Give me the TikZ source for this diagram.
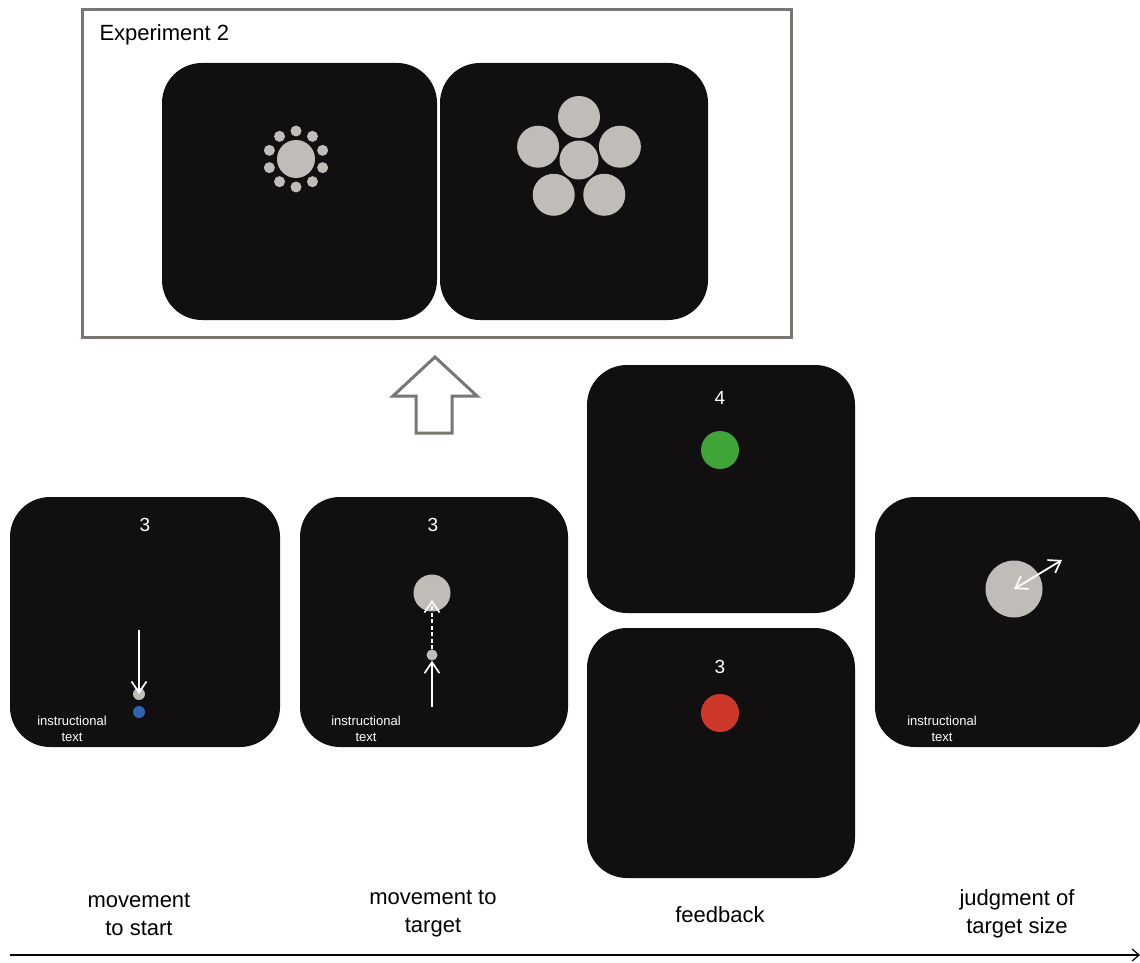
\documentclass[tikz,border=0pt]{standalone}
\usepackage{fontspec}
\setmainfont{Liberation Sans}
\usetikzlibrary{arrows.meta,calc}
\definecolor{scr}{RGB}{18,15,16}
\definecolor{lgray}{RGB}{192,189,184}
\definecolor{boxgray}{RGB}{122,118,114}
\definecolor{fbgreen}{RGB}{64,165,56}
\definecolor{fbred}{RGB}{206,56,42}
\definecolor{startblue}{RGB}{48,98,178}
\begin{document}
\begin{tikzpicture}[x=1pt,y=-1pt,
  screen/.style={fill=scr,draw=none,rounded corners=40pt,inner sep=0pt},
  disc/.style={circle,fill=lgray,draw=none,inner sep=0pt,minimum size=#1},
  scrnum/.style={text=white,font=\fontsize{19}{22}\selectfont},
  instr/.style={text=white,align=center,font=\fontsize{13}{16.5}\selectfont},
  lab/.style={align=center,font=\fontsize{22}{28}\selectfont},
  wtip/.tip={Straight Barb[length=11pt,width=15pt,line width=1.7pt]},
  warrow/.style={draw=white,line width=1.8pt,-{wtip}},
]
\useasboundingbox (0,0) rectangle (1140,963);

% Experiment 2 box
\node[draw=boxgray,line width=3pt,minimum width=709pt,minimum height=327pt,inner sep=0pt] (exbox) at (436.5,173.5) {};
\node[anchor=base west,font=\fontsize{22}{26}\selectfont] (extitle) at (96,41) {Experiment 2};
\node[screen,minimum width=275pt,minimum height=257pt] (ea) at (299.5,191.5) {};
\node[screen,minimum width=268pt,minimum height=257pt] (eb) at (574,191.5) {};

% cluster A: big centre, ten small surrounding
\node[disc=38pt] (ca) at (296,159) {};
\foreach \a [count=\i] in {90,126,...,414}
  \node[disc=11pt] (sa\i) at ($(ca)+(\a:28pt)$) {};

% cluster B: centre plus pentagon
\node[disc=39pt] (cb) at (579,160) {};
\foreach \a [count=\i] in {90,162,234,306,18}
  \node[disc=42pt] (pb\i) at ($(cb)+(\a:43pt)$) {};

% hollow up arrow
\draw[boxgray,line width=3pt,fill=white] (435,357) -- (477,396) -- (452,396) -- (452,433) -- (416,433) -- (416,396) -- (393,396) -- cycle;

% panel 1: movement to start
\node[screen,minimum width=270pt,minimum height=250pt] (p1) at (145,622) {};
\node[scrnum] (n1) at (145,525) {3};
\node[disc=12pt] (d1) at (139,694) {};
\node[circle,fill=startblue,inner sep=0pt,minimum size=12pt] (b1) at (139,712) {};
\coordinate (s1) at (139,630);
\draw[warrow] (s1) -- (d1.center);
\node[instr] (i1) at (72,729) {instructional\\text};

% panel 2: movement to target
\node[screen,minimum width=268pt,minimum height=250pt] (p2) at (434,622) {};
\node[scrnum] (n2) at (433,525) {3};
\node[disc=37pt] (t2) at (432,593) {};
\node[disc=11pt] (d2) at (432,655) {};
\coordinate (s2) at (432,707);
\coordinate (e2) at (432,600);
\draw[warrow] (s2) -- (d2.south);
\draw[warrow,dashed,dash pattern=on 4pt off 2.5pt] (d2.north) -- (e2);
\node[instr] (i2) at (366,729) {instructional\\text};

% panel 3: feedback
\node[screen,minimum width=268pt,minimum height=248pt] (p3a) at (721,489) {};
\node[scrnum] (n3a) at (720,398) {4};
\node[circle,fill=fbgreen,inner sep=0pt,minimum size=38pt] (g3) at (720,450) {};
\node[screen,minimum width=268pt,minimum height=250pt] (p3b) at (721,753) {};
\node[scrnum] (n3b) at (720,667) {3};
\node[circle,fill=fbred,inner sep=0pt,minimum size=38pt] (r3) at (720,713) {};

% panel 4: judgment of target size
\node[screen,minimum width=268pt,minimum height=250pt] (p4) at (1009,622) {};
\node[disc=57pt] (t4) at (1014,589) {};
\coordinate (e4) at (1062,560);
\draw[draw=white,line width=1.8pt,{wtip}-{wtip}] (t4.center) -- (e4);
\node[instr] (i4) at (942,729) {instructional\\text};

% labels
\node[lab] (l1) at (139,914) {movement\\to start};
\node[lab] (l2) at (433,914) {movement to\\target};
\node[lab] (l3) at (720,915) {feedback};
\node[lab] (l4) at (1017,914) {judgment of\\target size};

% timeline
\coordinate (ta) at (10,955);
\coordinate (tb) at (1140,955);
\draw[line width=1.3pt,-{Straight Barb[length=7pt,width=12pt,line width=1.2pt]}] (ta) -- (tb);
\end{tikzpicture}
\end{document}
